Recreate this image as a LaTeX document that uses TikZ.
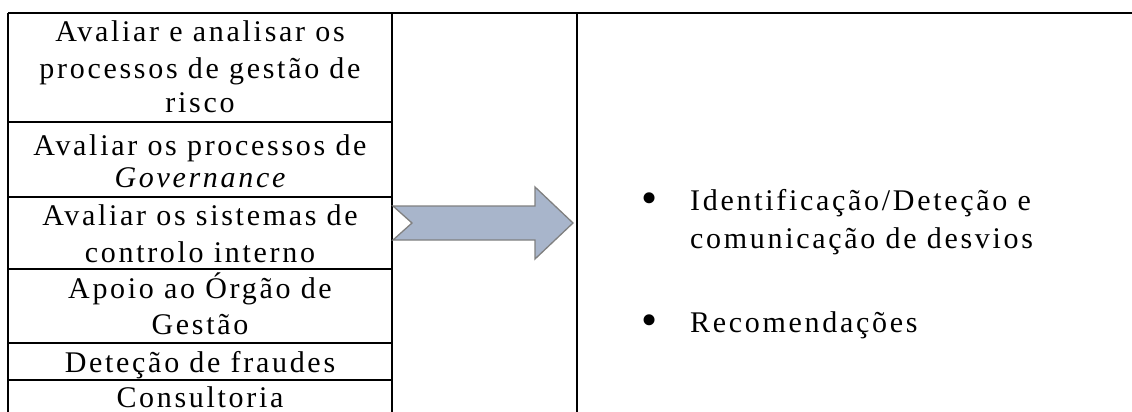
\documentclass[tikz,border=0pt]{standalone}
\usepackage{fontspec}
\setmainfont[LetterSpace=9]{Liberation Serif}
\definecolor{arrowfill}{RGB}{168,181,203}
\definecolor{arrowdraw}{RGB}{128,128,128}
\begin{document}
\begin{tikzpicture}[x=1pt,y=-1pt,
  tbl/.style={line width=1.6pt,black},
  txt/.style={anchor=base,inner sep=0pt,font=\fontsize{30}{36}\selectfont},
  ltxt/.style={anchor=base west,inner sep=0pt,font=\fontsize{30}{36}\selectfont},
  bul/.style={anchor=base,inner sep=0pt,font=\fontsize{46}{46}\selectfont},
  blockarrow/.style={fill=arrowfill,draw=arrowdraw,line width=1.3pt,line join=miter}]
\useasboundingbox (0,0) rectangle (1132,412);
% table lines
\draw[tbl] (8,13) -- (1132,13);
\draw[tbl] (8,13) -- (8,412);
\draw[tbl] (392,13) -- (392,412);
\draw[tbl] (577,13) -- (577,412);
\foreach \yy in {122,197,269,343,380} \draw[tbl] (8,\yy) -- (392,\yy);
% left column texts
\node[txt] (r1a) at (200,41.5) {Avaliar e analisar os};
\node[txt] (r1b) at (200,78.5) {processos de gestão de};
\node[txt] (r1c) at (200,112.5) {risco};
\node[txt] (r2a) at (200,155) {Avaliar os processos de};
\node[txt] (r2b) at (200,187) {\itshape Governance};
\node[txt] (r3a) at (200,225) {Avaliar os sistemas de};
\node[txt] (r3b) at (200,262) {controlo interno};
\node[txt] (r4a) at (200,298) {Apoio ao Órgão de};
\node[txt] (r4b) at (200,334.5) {Gestão};
\node[txt] (r5) at (200,372) {Deteção de fraudes};
\node[txt] (r6) at (200,407.5) {Consultoria};
% arrow
\draw[blockarrow] (393,206) -- (535,206) -- (535,187) -- (573,223) -- (535,259) -- (535,240) -- (393,240) -- (412,223) -- cycle;
% right column
\node[bul] (b1) at (650,213) {\textbullet};
\node[ltxt] (o1a) at (690,210) {Identificação/Deteção e};
\node[ltxt] (o1b) at (690,248) {comunicação de desvios};
\node[bul] (b2) at (650,335) {\textbullet};
\node[ltxt] (o2) at (690,332) {Recomendações};
\end{tikzpicture}
\end{document}
